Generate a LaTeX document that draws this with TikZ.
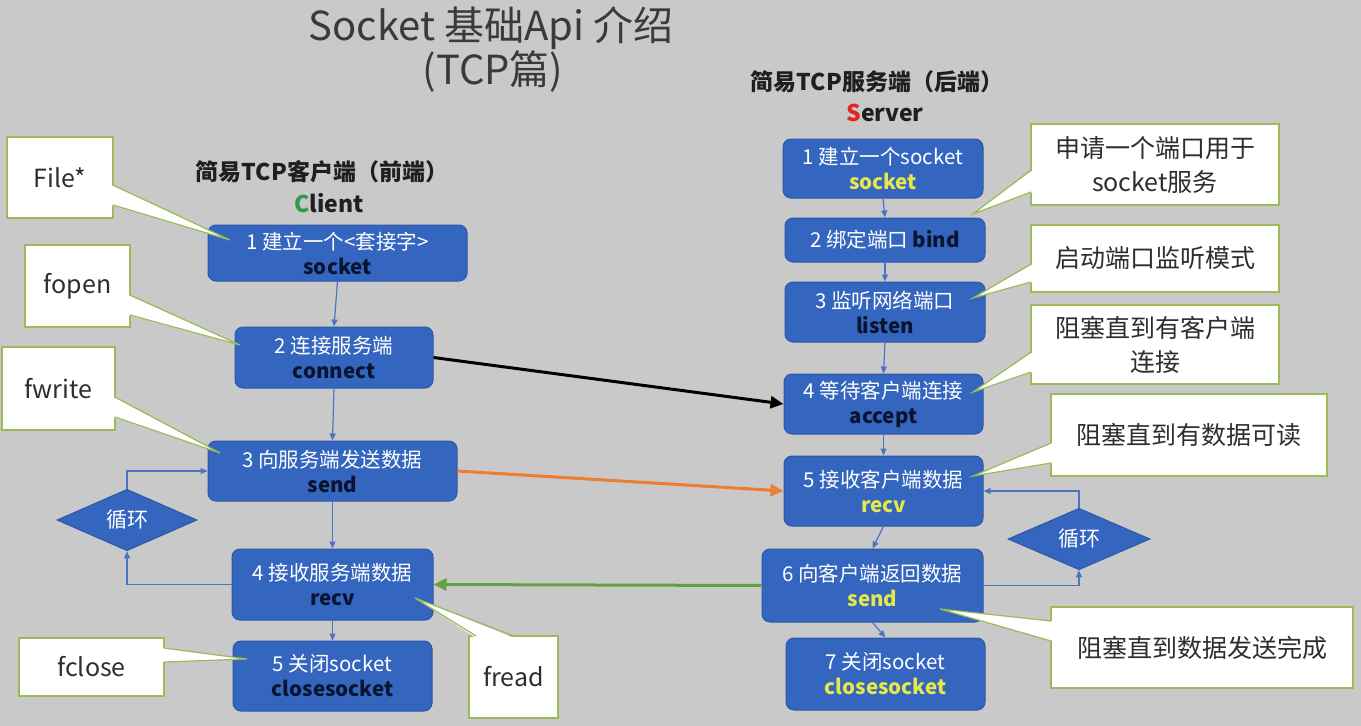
\documentclass[tikz,border=0pt]{standalone}
\usepackage{fontspec}
\setmainfont{Noto Sans CJK SC}
\usetikzlibrary{shapes.geometric,arrows.meta,calc}
\definecolor{bg}{HTML}{C9C9C9}
\definecolor{boxblue}{HTML}{3466BF}
\definecolor{boxedge}{HTML}{2B58A8}
\definecolor{linkblue}{HTML}{4D74C2}
\definecolor{stepnavy}{HTML}{0A1430}
\definecolor{ylw}{HTML}{E6E84A}
\definecolor{cgreen}{HTML}{9BBB59}
\definecolor{txtgray}{HTML}{2E2E2E}
\definecolor{titlegray}{HTML}{3A3A3A}
\definecolor{orangeA}{HTML}{ED7D31}
\definecolor{greenA}{HTML}{62A043}
\definecolor{clientC}{HTML}{2E9A4A}
\definecolor{serverS}{HTML}{E0261E}
\newcommand{\dk}[1]{{\bfseries\color{stepnavy}#1}}
\newcommand{\yl}[1]{{\bfseries\color{ylw}#1}}
\tikzset{
  stepbox/.style={rounded corners=8pt, fill=boxblue, draw=boxedge, line width=1pt,
    align=center, text=white, font=\fontsize{20.5}{25}\selectfont, inner sep=0pt},
  loopbox/.style={diamond, fill=boxblue, draw=boxedge, line width=1pt, text=white,
    inner sep=0pt, font=\fontsize{21}{24}\selectfont},
  flow/.style={draw=linkblue, line width=1.2pt, -{Triangle[length=7pt,width=6pt]}},
  bigarrow/.style={line width=3pt, -{Triangle[length=13pt,width=12pt]}},
  callbody/.style={fill=white, draw=cgreen, line width=1.2pt, inner sep=0pt,
    text=txtgray, font=\fontsize{25}{34}\selectfont, align=center},
  headtext/.style={font=\fontsize{23}{27}\selectfont\bfseries, text=black!88},
  titletext/.style={font=\fontsize{40}{44}\selectfont, text=titlegray},
}
\newcommand{\wedgeto}[4]{%
  \fill[white] ($#1+#4$) -- #3 -- ($#2+#4$) -- cycle;
  \draw[cgreen, line width=1.2pt] #1 -- #3 -- #2;
}
\begin{document}
\begin{tikzpicture}[x=1pt,y=-1pt]
\useasboundingbox (0,0) rectangle (1361,726);
\fill[bg] (0,0) rectangle (1361,726);

% titles
\node[titletext] (title1) at (491,28) {Socket 基础Api 介绍};
\node[titletext] (title2) at (493,72) {(TCP篇)};
\node[headtext] (chead) at (322,172) {简易TCP客户端（前端）};
\node[headtext] (cname) at (329,203) {\textcolor{clientC}{C}lient};
\node[headtext] (shead) at (877,82) {简易TCP服务端（后端）};
\node[headtext] (sname) at (885,113) {\textcolor{serverS}{S}erver};

% client steps
\node[stepbox, minimum width=259pt, minimum height=56pt] (c1) at (337.5,253) {1 建立一个<套接字>\\\dk{socket}};
\node[stepbox, minimum width=198pt, minimum height=61pt] (c2) at (334,357.5) {2 连接服务端\\\dk{connect}};
\node[stepbox, minimum width=249pt, minimum height=60pt] (c3) at (332.5,471) {3 向服务端发送数据\\\dk{send}};
\node[stepbox, minimum width=201pt, minimum height=71pt] (c4) at (332.5,584.5) {4 接收服务端数据\\\dk{recv}};
\node[stepbox, minimum width=199pt, minimum height=70pt] (c5) at (332.5,676) {5 关闭socket\\\dk{closesocket}};
\node[loopbox, minimum width=140pt, minimum height=54pt] (d1) at (127,520) {循环};

% server steps
\node[stepbox, minimum width=200pt, minimum height=59pt] (s1) at (883,168.5) {1 建立一个socket\\\yl{socket}};
\node[stepbox, minimum width=200pt, minimum height=44pt] (s2) at (885,240) {2 绑定端口 \dk{bind}};
\node[stepbox, minimum width=200pt, minimum height=60pt] (s3) at (885,312) {3 监听网络端口\\\dk{listen}};
\node[stepbox, minimum width=199pt, minimum height=60pt] (s4) at (883.5,404) {4 等待客户端连接\\\dk{accept}};
\node[stepbox, minimum width=199pt, minimum height=70pt] (s5) at (883.5,491) {5 接收客户端数据\\\yl{recv}};
\node[stepbox, minimum width=221pt, minimum height=73pt] (s6) at (872.5,585.5) {6 向客户端返回数据\\\yl{send}};
\node[stepbox, minimum width=199pt, minimum height=72pt] (s7) at (885.5,674) {7 关闭socket\\\yl{closesocket}};
\node[loopbox, minimum width=142pt, minimum height=54pt] (d2) at (1079,539) {循环};

% flow connectors
\draw[flow] (c1.south) -- (c2.north);
\draw[flow] (c2.south) -- (c3.north);
\draw[flow] (c3.south) -- (c4.north);
\draw[flow] (c4.south) -- (c5.north);
\draw[flow] (c4.west) -| (d1.south);
\draw[flow] (d1.north) |- (c3.west);
\draw[flow] (s1.south) -- (s2.north);
\draw[flow] (s2.south) -- (s3.north);
\draw[flow] (s3.south) -- (s4.north);
\draw[flow] (s4.south) -- (s5.north);
\draw[flow] (s5.south) -- (s6.north);
\draw[flow] (s6.south) -- (s7.north);
\draw[flow] (s6.east) -| (d2.south);
\draw[flow] (d2.north) |- (s5.east);

% big arrows
\draw[bigarrow, black] (c2.east) -- (s4.west);
\draw[bigarrow, orangeA] (c3.east) -- (s5.west);
\draw[bigarrow, greenA] (s6.west) -- (c4.east);

% callouts (client)
\node[callbody, minimum width=106pt, minimum height=81pt] (kfile) at (60,177.5) {File*};
\wedgeto{(113,185)}{(113,205)}{(230,240)}{(-2,0)}
\node[callbody, minimum width=105pt, minimum height=82pt] (kopen) at (77.5,286) {fopen};
\wedgeto{(130,295)}{(130,315)}{(240,345)}{(-2,0)}
\node[callbody, minimum width=113pt, minimum height=83pt] (kwrite) at (58.5,388.5) {fwrite};
\wedgeto{(115,397)}{(115,417)}{(220,453)}{(-2,0)}
\node[callbody, minimum width=145pt, minimum height=58pt] (kclose) at (91.5,667) {fclose};
\wedgeto{(164,648)}{(164,662)}{(247,659)}{(-2,0)}
\node[callbody, minimum width=89pt, minimum height=82pt] (kread) at (513.5,677) {fread};
\wedgeto{(476,636)}{(514,636)}{(415,598)}{(0,2)}

% callouts (server)
\node[callbody, minimum width=248pt, minimum height=81pt] (kport) at (1155,164.5) {申请一个端口用于\\socket服务};
\wedgeto{(1031,170)}{(1031,192)}{(973,214)}{(2,0)}
\node[callbody, minimum width=248pt, minimum height=67pt] (klisten) at (1155,258.5) {启动端口监听模式};
\wedgeto{(1031,264)}{(1031,282)}{(973,298)}{(2,0)}
\node[callbody, minimum width=248pt, minimum height=79pt] (kaccept) at (1155,344.5) {阻塞直到有客户端\\连接};
\wedgeto{(1031,352)}{(1031,372)}{(973,392)}{(2,0)}
\node[callbody, minimum width=276pt, minimum height=82pt] (krecv) at (1189,435) {阻塞直到有数据可读};
\wedgeto{(1051,443)}{(1051,463)}{(973,476)}{(2,0)}
\node[callbody, minimum width=302pt, minimum height=81pt] (ksend) at (1202,647.5) {阻塞直到数据发送完成};
\wedgeto{(1051,621)}{(1051,641)}{(940,609)}{(2,0)}
\end{tikzpicture}
\end{document}
